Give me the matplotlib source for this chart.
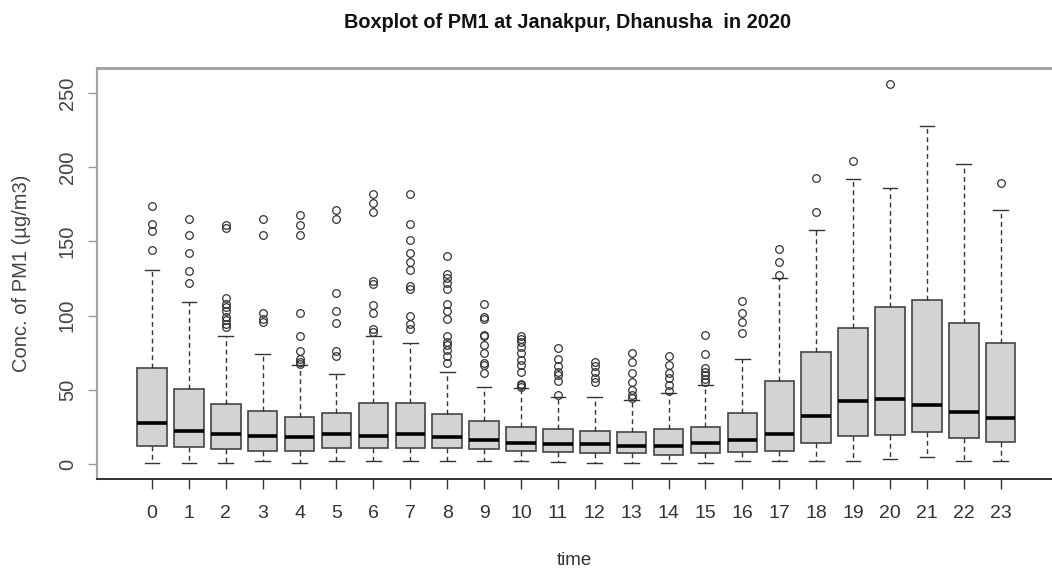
import numpy as np
import matplotlib
matplotlib.use("Agg")
import matplotlib.pyplot as plt

plt.rcParams['font.family'] = ['Liberation Sans', 'DejaVu Sans']

# hourly PM1 summary (ug/m3), hours 0..23
hours = list(range(24))
q1 = [12.3, 11.2, 10.1, 8.8, 8.8, 10.6, 10.6, 10.6, 10.6, 10.1, 9.0, 8.3,
      7.2, 7.2, 6.1, 7.2, 8.3, 8.8, 13.9, 19.1, 19.5, 21.3, 17.3, 15.0]
median = [27.4, 22.5, 20.2, 19.1, 18.0, 20.0, 18.9, 20.2, 18.0, 16.2, 14.4, 13.5,
          13.5, 12.1, 12.1, 14.4, 16.2, 20.0, 32.6, 42.5, 43.8, 39.8, 34.8, 31.2]
q3 = [64.5, 50.5, 40.4, 35.9, 31.9, 34.1, 40.9, 40.9, 33.5, 29.2, 25.2, 23.6,
      22.5, 21.3, 23.6, 25.2, 34.6, 56.2, 75.2, 91.4, 106.0, 110.5, 95.2, 81.3]
whisker_lo = [0.5, 0.5, 0.5, 2.0, 0.5, 2.0, 2.0, 2.0, 2.0, 2.0, 2.0, 1.4,
              0.5, 0.5, 0.5, 0.5, 2.0, 2.0, 2.0, 2.0, 3.4, 4.5, 2.0, 2.0]
whisker_hi = [130.7, 109.0, 86.0, 74.1, 66.7, 60.4, 86.0, 81.3, 62.2, 52.1, 51.0, 45.4,
              44.9, 43.1, 47.6, 53.2, 70.5, 125.1, 157.7, 192.0, 186.2, 228.0, 202.2, 171.2]
outliers = [
    [174, 162, 157, 144],
    [165, 154, 142, 130, 122],
    [161, 159, 112, 108, 106, 103, 99, 97, 94, 92],
    [165, 154, 102, 98, 96],
    [168, 161, 154, 102, 86, 76, 71, 69, 67.5],
    [171, 165, 115, 103, 95, 76, 73],
    [182, 176, 170, 123, 121, 107, 102, 91, 89],
    [182, 162, 151, 142, 136, 131, 120, 118, 100, 94, 91],
    [140, 128, 125, 122, 118, 108, 103, 98, 86, 82, 80, 77, 73, 68],
    [108, 99, 98, 87, 86, 80, 75, 68, 67, 61],
    [86, 84, 82, 79, 75, 70, 67, 62, 54, 53, 52],
    [78, 71, 66, 62, 60, 56, 46.5],
    [69, 66, 62, 58, 55.5],
    [75, 69, 61, 55, 50, 46.5, 44.3],
    [73, 67, 61, 58, 53, 49],
    [87, 74, 64.5, 62, 60, 57, 55],
    [110, 102, 95.5, 88],
    [145, 136, 127.5],
    [192.5, 169.6],
    [204],
    [256],
    [],
    [],
    [189.6],
]

stats = []
for i in range(len(hours)):
    stats.append(dict(med=median[i], q1=q1[i], q3=q3[i],
                      whislo=whisker_lo[i], whishi=whisker_hi[i],
                      fliers=outliers[i], label=str(hours[i])))

fig = plt.figure(figsize=(10.52, 5.75), dpi=100)
ax = fig.add_axes([97 / 1052, 1 - 479 / 575, 1 - 97 / 1052, (479 - 68) / 575])

ax.bxp(stats, positions=hours, widths=0.8, patch_artist=True,
       boxprops=dict(facecolor='#d3d3d3', edgecolor='#444444', linewidth=1.2),
       medianprops=dict(color='black', linewidth=2.6),
       whiskerprops=dict(color='#333333', linewidth=1.0, linestyle=(0, (3.5, 2.5))),
       capprops=dict(color='#333333', linewidth=1.0),
       capwidths=0.4,
       flierprops=dict(marker='o', markersize=5.5, markerfacecolor='none',
                       markeredgecolor='#333333', markeredgewidth=0.9))

ax.set_xlim(-1.49, 24.39)
ax.set_ylim(-10.1, 266.8)

ax.set_yticks([0, 50, 100, 150, 200, 250])
ax.set_yticklabels(['0', '50', '100', '150', '200', '250'], rotation=90,
                   va='center', fontsize=14.5, color='#444444')
ax.set_xticks(hours)
ax.set_xticklabels([str(h) for h in hours], fontsize=14, color='#333333')
ax.tick_params(axis='y', length=6.5, width=1.0, color='#999999', pad=8)
ax.tick_params(axis='x', length=7.5, width=1.0, color='#333333', pad=11)

ax.spines['right'].set_visible(False)
ax.spines['top'].set_color('#a5a5a5')
ax.spines['top'].set_linewidth(2.2)
ax.spines['left'].set_color('#a5a5a5')
ax.spines['left'].set_linewidth(1.6)
ax.spines['bottom'].set_color('#333333')
ax.spines['bottom'].set_linewidth(1.4)

ax.set_xlabel('time', fontsize=13.5, color='#333333', labelpad=22)
ax.set_ylabel('Conc. of PM1 (\u00b5g/m3)', fontsize=14.5, color='#444444', labelpad=19)
fig.text(568 / 1052, 1 - 22 / 575, 'Boxplot of PM1 at Janakpur, Dhanusha  in 2020',
         ha='center', va='center', fontsize=14.3, fontweight='bold', color='#111111')

fig.savefig('out.png', dpi=100)
